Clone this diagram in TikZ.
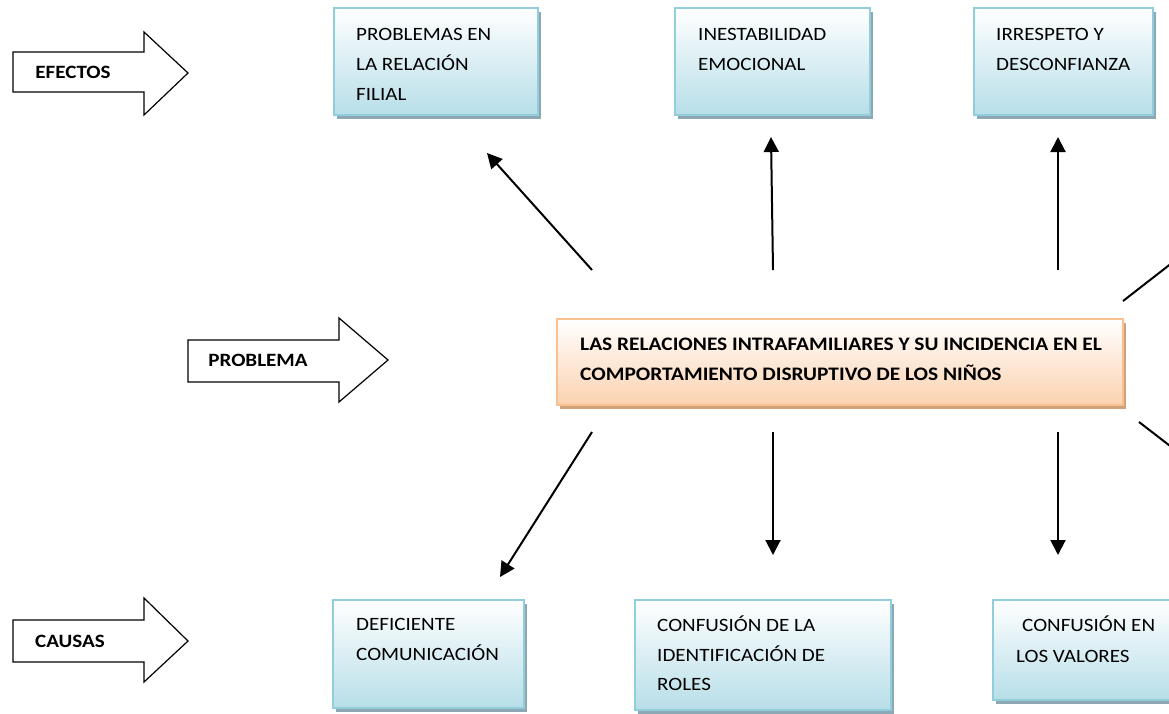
\documentclass[tikz,border=0pt]{standalone}
\usepackage{fontspec}
\setmainfont{Carlito}[FakeStretch=1.12]
\usetikzlibrary{shadows,arrows.meta}
\definecolor{bborder}{RGB}{146,205,220}
\definecolor{bfill}{RGB}{183,222,232}
\definecolor{bshadow}{RGB}{140,168,180}
\definecolor{oborder}{RGB}{250,192,144}
\definecolor{ofill}{RGB}{251,210,176}
\definecolor{oshadow}{RGB}{208,162,124}
\begin{document}
\begin{tikzpicture}[x=1pt,y=-1pt,
  bluebox/.style={draw=bborder,line width=2pt,top color=white,bottom color=bfill,
    inner sep=0pt,drop shadow={shadow xshift=3pt,shadow yshift=-4pt,fill=bshadow,opacity=1}},
  orangebox/.style={draw=oborder,line width=2pt,top color=white,bottom color=ofill,
    inner sep=0pt,drop shadow={shadow xshift=3pt,shadow yshift=-4pt,fill=oshadow,opacity=1}},
  txt/.style={anchor=base west,inner sep=0pt,font=\fontsize{18.8}{22}\selectfont},
  btxt/.style={anchor=base,inner sep=0pt,font=\fontsize{18.8}{22}\selectfont\bfseries},
  ctxt/.style={anchor=base west,inner sep=0pt,font=\fontsize{19.1}{22}\selectfont\bfseries},
  blockarrow/.style={draw=black,line width=1.2pt,fill=white,line join=miter},
  conn/.style={draw=black,line width=2pt,-{Triangle[length=15pt,width=15pt]}},
  plainconn/.style={draw=black,line width=2pt}]
\clip (0,0) rectangle (1169,713);
\fill[white] (0,0) rectangle (1169,713);

% block arrows
\draw[blockarrow] (13,52) -- (144,52) -- (144,32) -- (188,73) -- (144,115) -- (144,92) -- (13,92) -- cycle;
\node[btxt] (lefectos) at (73,78) {EFECTOS};
\draw[blockarrow] (188,340) -- (339,340) -- (339,318) -- (388,360) -- (339,402) -- (339,382) -- (188,382) -- cycle;
\node[btxt] (lproblema) at (258,366) {PROBLEMA};
\draw[blockarrow] (13,620) -- (144,620) -- (144,598) -- (188,641) -- (144,682) -- (144,662) -- (13,662) -- cycle;
\node[btxt] (lcausas) at (70,647) {CAUSAS};

% effect boxes
\node[bluebox,minimum width=204,minimum height=107] (e1) at (436,61.5) {};
\node[bluebox,minimum width=195,minimum height=107] (e2) at (772.5,61.5) {};
\node[bluebox,minimum width=179,minimum height=107] (e3) at (1063.5,61.5) {};
\node[txt] (e1a) at (356,40) {PROBLEMAS EN};
\node[txt] (e1b) at (356,70) {LA RELACIÓN};
\node[txt] (e1c) at (356,100) {FILIAL};
\node[txt] (e2a) at (698,40) {INESTABILIDAD};
\node[txt] (e2b) at (698,70) {EMOCIONAL};
\node[txt] (e3a) at (996,40) {IRRESPETO Y};
\node[txt] (e3b) at (996,70) {DESCONFIANZA};

% problem box
\node[orangebox,minimum width=566,minimum height=86] (p) at (840,362) {};
\node[ctxt] (pa) at (580,350) {LAS RELACIONES INTRAFAMILIARES Y SU INCIDENCIA EN EL};
\node[ctxt] (pb) at (580,380) {COMPORTAMIENTO DISRUPTIVO DE LOS NIÑOS};

% cause boxes
\node[bluebox,minimum width=191,minimum height=108] (c1) at (428.5,654) {};
\node[bluebox,minimum width=256,minimum height=110] (c2) at (763,655) {};
\node[bluebox,minimum width=192,minimum height=100] (c3) at (1089,650) {};
\node[txt] (c1a) at (356,630) {DEFICIENTE};
\node[txt] (c1b) at (356,660) {COMUNICACIÓN};
\node[txt] (c2a) at (657,631) {CONFUSIÓN DE LA};
\node[txt] (c2b) at (657,661) {IDENTIFICACIÓN DE};
\node[txt] (c2c) at (657,690) {ROLES};
\node[txt] (c3a) at (1022,631) {CONFUSIÓN EN};
\node[txt] (c3b) at (1016,662) {LOS VALORES};

% connector end points
\coordinate (u1s) at (592,270); \coordinate (u1e) at (487,153);
\coordinate (u2s) at (773,270); \coordinate (u2e) at (771,137);
\coordinate (u3s) at (1058,270); \coordinate (u3e) at (1058,137);
\coordinate (u4s) at (1123,301); \coordinate (u4e) at (1204,238);
\coordinate (d1s) at (592,432); \coordinate (d1e) at (500,577);
\coordinate (d2s) at (773,432); \coordinate (d2e) at (773,555);
\coordinate (d3s) at (1058,432); \coordinate (d3e) at (1058,555);
\coordinate (d4s) at (1139,422); \coordinate (d4e) at (1200,469);

\draw[conn] (u1s) -- (u1e);
\draw[conn] (u2s) -- (u2e);
\draw[conn] (u3s) -- (u3e);
\draw[plainconn] (u4s) -- (u4e);
\draw[conn] (d1s) -- (d1e);
\draw[conn] (d2s) -- (d2e);
\draw[conn] (d3s) -- (d3e);
\draw[plainconn] (d4s) -- (d4e);
\end{tikzpicture}
\end{document}
